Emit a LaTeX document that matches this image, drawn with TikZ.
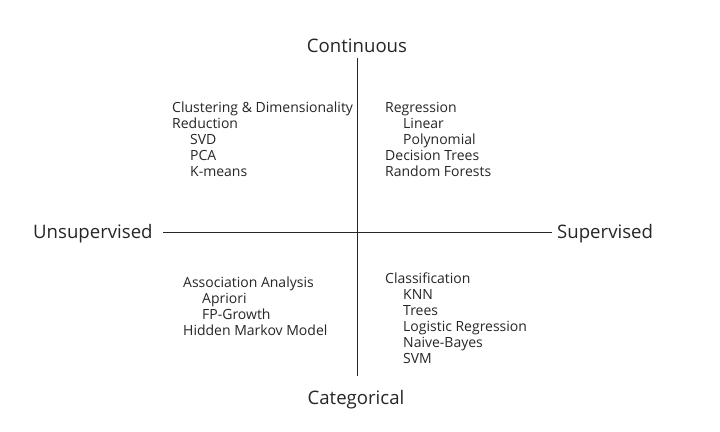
\documentclass[tikz,border=0pt]{standalone}
\usepackage{fontspec}
\setmainfont{Open Sans}
\begin{document}
\begin{tikzpicture}[x=1pt,y=-1pt,
  small/.style={anchor=base west,inner sep=0pt,text=black!85,font=\fontsize{14}{16}\selectfont},
  big/.style={inner sep=0pt,text=black!85,font=\fontsize{18.6}{21}\selectfont},
  axis/.style={draw=black!85,line width=1pt}]
\useasboundingbox[fill=white] (0,0) rectangle (720,431);
% axis labels
\node[big,anchor=base] (cont) at (357,52) {Continuous};
\node[big,anchor=base] (cat) at (356,404) {Categorical};
\node[big,anchor=base west] (uns) at (33,238) {Unsupervised};
\node[big,anchor=base west] (sup) at (557,238) {Supervised};
% axes
\coordinate (vt) at (357,58);
\coordinate (vb) at (357,376);
\coordinate (hl) at (163,232);
\coordinate (hr) at (552,232);
\draw[axis] (vt) -- (vb);
\draw[axis] (hl) -- (hr);
% top-left
\node[small] (a1) at (172,112) {Clustering \& Dimensionality};
\node[small] (a2) at (172,128) {Reduction};
\node[small] (a3) at (190,144) {SVD};
\node[small] (a4) at (190,160) {PCA};
\node[small] (a5) at (190,176) {K-means};
% top-right
\node[small] (b1) at (385,112) {Regression};
\node[small] (b2) at (403,128) {Linear};
\node[small] (b3) at (403,144) {Polynomial};
\node[small] (b4) at (385,160) {Decision Trees};
\node[small] (b5) at (385,176) {Random Forests};
% bottom-left
\node[small] (c1) at (183,287) {Association Analysis};
\node[small] (c2) at (202,303) {Apriori};
\node[small] (c3) at (202,319) {FP-Growth};
\node[small] (c4) at (183,335) {Hidden Markov Model};
% bottom-right
\node[small] (d1) at (385,283) {Classification};
\node[small] (d2) at (403,299) {KNN};
\node[small] (d3) at (403,315) {Trees};
\node[small] (d4) at (403,331) {Logistic Regression};
\node[small] (d5) at (403,347) {Naive-Bayes};
\node[small] (d6) at (403,363) {SVM};
\end{tikzpicture}
\end{document}
